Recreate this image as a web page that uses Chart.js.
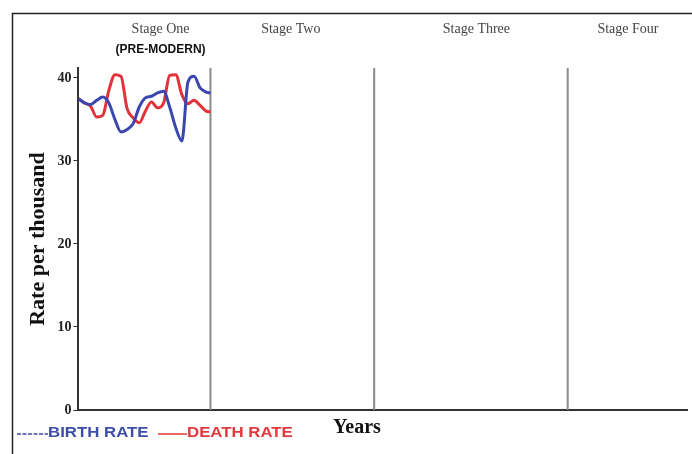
<!DOCTYPE html>
<html>
<head>
<meta charset="utf-8">
<script src="https://cdn.jsdelivr.net/npm/chart.js@4"></script>
<style>
  html, body { margin: 0; padding: 0; background: #fff; }
  #wrap { width: 692px; height: 454px; position: relative; }
</style>
</head>
<body>
<div id="wrap"><canvas id="grafico" width="692" height="454"></canvas></div>
<script>
// eje x en "años" (sin escala visible), 0..100
const anios = [0,1,2,3,4,5,6,7,8,9,10,11,12,13,14,15,16,17,18,19,20,21,21.7];
const natalidad = [37.5,37.0,36.8,37.3,37.7,37.0,35.0,33.5,33.8,34.5,36.5,37.6,37.8,38.2,38.4,36.5,34.0,32.4,39.5,40.2,38.8,38.3,38.2];
const mortalidad = [37.5,37.0,36.6,35.3,35.5,38.5,40.4,40.2,36.3,35.2,34.6,36.0,37.1,36.4,37.0,40.3,40.4,38.0,36.9,37.3,36.7,36.0,35.9];
const limitesEtapas = [21.7, 48.6, 80.4];
const etapas = ['Stage One', 'Stage Two', 'Stage Three', 'Stage Four'];
const etapasX = [13.5, 34.9, 65.4, 90.3];
const yTicks = [0, 10, 20, 30, 40];

const puntos = (xs, ys) => xs.map((x, i) => ({ x: x, y: ys[i] }));

const lineasEtapas = limitesEtapas.map(b => ({
  data: [{ x: b, y: 0 }, { x: b, y: 41.2 }],
  borderColor: '#8a8a8a',
  borderWidth: 2,
  pointRadius: 0,
  tension: 0
}));

// texto estirado a lo ancho, como en la imagen original
function textoAncho(c, txt, x, y, escala) {
  c.save();
  c.translate(x, y);
  c.scale(escala, 1);
  c.fillText(txt, 0, 0);
  c.restore();
}

const textosExtra = {
  id: 'textosExtra',
  beforeDraw(chart) {
    const c = chart.ctx;
    c.save();
    c.strokeStyle = '#222';
    c.lineWidth = 1.5;
    c.beginPath();
    c.moveTo(12.5, 454);
    c.lineTo(12.5, 13.5);
    c.lineTo(692, 13.5);
    c.stroke();
    c.restore();
  },
  afterDraw(chart) {
    const c = chart.ctx;
    const xs = chart.scales.x;
    c.save();
    c.textAlign = 'center';
    c.textBaseline = 'middle';
    c.fillStyle = '#444';
    c.font = '14px "Liberation Serif", serif';
    etapas.forEach((t, i) => c.fillText(t, xs.getPixelForValue(etapasX[i]), 29));
    c.fillStyle = '#111';
    c.font = 'bold 12px "Liberation Sans", Arial, sans-serif';
    c.fillText('(PRE-MODERN)', xs.getPixelForValue(etapasX[0]), 50);

    c.font = 'bold 20px "Liberation Serif", serif';
    c.fillText('Years', 357, 428);

    // leyenda
    c.textAlign = 'left';
    c.font = 'bold 15px "Liberation Sans", Arial, sans-serif';
    c.lineWidth = 1.5;
    c.strokeStyle = '#3e4ea6';
    c.setLineDash([4, 1.5]);
    c.beginPath(); c.moveTo(17, 434); c.lineTo(48, 434); c.stroke();
    c.fillStyle = '#3e4ea6';
    textoAncho(c, 'BIRTH RATE', 48, 433, 1.12);
    c.setLineDash([]);
    c.strokeStyle = '#e03a3e';
    c.beginPath(); c.moveTo(158, 434); c.lineTo(187, 434); c.stroke();
    c.fillStyle = '#e03a3e';
    textoAncho(c, 'DEATH RATE', 187, 433, 1.12);
    c.restore();
  }
};

new Chart(document.getElementById('grafico'), {
  type: 'line',
  data: {
    datasets: [
      {
        label: 'BIRTH RATE',
        data: puntos(anios, natalidad),
        borderColor: '#3a47b0',
        borderWidth: 3,
        pointRadius: 0,
        cubicInterpolationMode: 'monotone'
      },
      {
        label: 'DEATH RATE',
        data: puntos(anios, mortalidad),
        borderColor: '#e2323a',
        borderWidth: 3,
        pointRadius: 0,
        cubicInterpolationMode: 'monotone'
      },
      ...lineasEtapas
    ]
  },
  options: {
    responsive: false,
    animation: false,
    layout: { padding: { left: 25, right: 5, top: 68, bottom: 36 } },
    scales: {
      x: {
        type: 'linear',
        min: 0,
        max: 100,
        grid: { display: false },
        ticks: { display: false },
        border: { color: '#333', width: 2 }
      },
      y: {
        min: 0,
        max: 41.2,
        afterBuildTicks: s => { s.ticks = yTicks.map(v => ({ value: v })); },
        grid: { drawOnChartArea: false, tickLength: 5, color: '#333' },
        border: { color: '#333', width: 2 },
        ticks: {
          color: '#222',
          padding: 2,
          font: { family: '"Liberation Serif", serif', size: 14, weight: 'bold' }
        },
        title: {
          display: true,
          text: 'Rate per thousand',
          color: '#111',
          padding: { top: 0, bottom: 4 },
          font: { family: '"Liberation Serif", serif', size: 22, weight: 'bold' }
        }
      }
    },
    plugins: {
      legend: { display: false },
      tooltip: { enabled: false }
    }
  },
  plugins: [textosExtra]
});
</script>
</body>
</html>
